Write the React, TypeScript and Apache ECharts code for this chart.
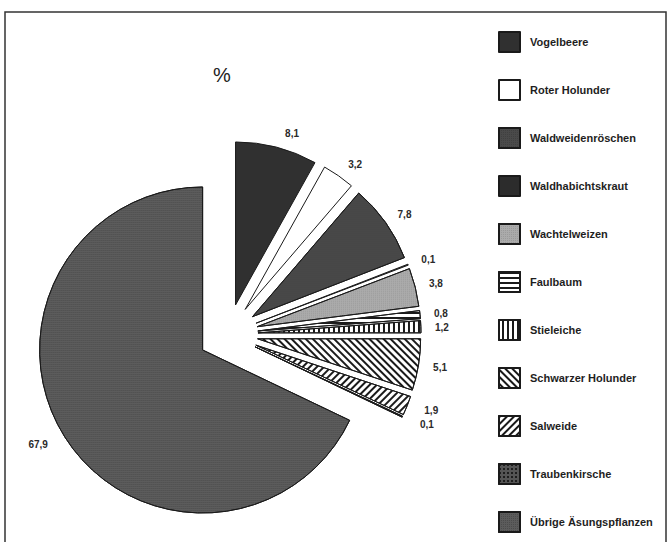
import React, { useEffect, useRef } from "react";
import * as echarts from "echarts";

const categories = [
  "Vogelbeere",
  "Roter Holunder",
  "Waldweidenröschen",
  "Waldhabichtskraut",
  "Wachtelweizen",
  "Faulbaum",
  "Stieleiche",
  "Schwarzer Holunder",
  "Salweide",
  "Traubenkirsche",
  "Übrige Äsungspflanzen",
];
const values = [8.1, 3.2, 7.8, 0.1, 3.8, 0.8, 1.2, 5.1, 1.9, 0.1, 67.9];
const unitTitle = "%";

const lineDecal = (rotation: number) => ({
  symbol: "rect",
  symbolSize: 1,
  color: "#1a1a1a",
  backgroundColor: "#ffffff",
  dashArrayX: [1, 0],
  dashArrayY: [1.6, 2.4],
  rotation,
});

const styles: any[] = [
  { color: "#303030" },
  { color: "#ffffff" },
  {
    color: "#4a4a4a",
    decal: { symbol: "rect", symbolSize: 1, color: "#404040", backgroundColor: "#5a5a5a", dashArrayX: [1, 1], dashArrayY: [1, 1], rotation: 0 },
  },
  { color: "#2c2c2c" },
  {
    color: "#ababab",
    decal: { symbol: "rect", symbolSize: 1, color: "#9a9a9a", backgroundColor: "#bdbdbd", dashArrayX: [1, 1], dashArrayY: [1, 1], rotation: 0 },
  },
  { color: "#ffffff", decal: lineDecal(0) },
  { color: "#ffffff", decal: lineDecal(Math.PI / 2) },
  { color: "#ffffff", decal: lineDecal(Math.PI / 4) },
  { color: "#ffffff", decal: lineDecal(-Math.PI / 4) },
  {
    color: "#555555",
    decal: { symbol: "rect", symbolSize: 1, color: "#1e1e1e", backgroundColor: "#9a9a9a", dashArrayX: [1.5, 1.5], dashArrayY: [1.5, 1.5], rotation: 0 },
  },
  {
    color: "#5c5c5c",
    decal: { symbol: "rect", symbolSize: 1, color: "#4c4c4c", backgroundColor: "#6c6c6c", dashArrayX: [1, 1], dashArrayY: [1, 1], rotation: 0 },
  },
];

export default function App() {
  const ref = useRef<HTMLDivElement>(null);
  useEffect(() => {
    if (!ref.current) return;
    const chart = echarts.init(ref.current, null, { renderer: "svg" });
    const data = categories.map((name, i) => ({
      name,
      value: values[i],
      selected: true,
      itemStyle: { ...styles[i], borderColor: "#1a1a1a", borderWidth: 1 },
    }));
    chart.setOption({
      animation: false,
      backgroundColor: "#ffffff",
      title: {
        text: unitTitle,
        left: 208,
        top: 60,
        textStyle: { fontFamily: "Liberation Sans", fontSize: 20, fontWeight: "normal", color: "#222" },
      },
      legend: {
        orient: "vertical",
        left: 498,
        top: 31,
        padding: 0,
        itemWidth: 21,
        itemHeight: 20,
        itemGap: 26,
        icon: "rect",
        selectedMode: false,
        data: categories,
        textStyle: {
          fontFamily: "Liberation Sans",
          fontWeight: "bold",
          fontSize: 11,
          color: "#1e1e1e",
          padding: [0, 0, 0, 5],
        },
      },
      graphic: [
        {
          type: "rect",
          shape: { x: 5, y: 12, width: 661, height: 600 },
          style: { fill: "none", stroke: "#333", lineWidth: 1.5 },
          silent: true,
        },
      ],
      series: [
        {
          type: "pie",
          center: [228, 334],
          radius: 163,
          startAngle: 90,
          clockwise: true,
          selectedMode: "multiple",
          selectedOffset: 30,
          avoidLabelOverlap: true,
          emphasis: { disabled: true },
          label: {
            show: true,
            position: "outside",
            formatter: (p: any) => String(p.value.toFixed(1)).replace(".", ","),
            fontFamily: "Liberation Sans",
            fontWeight: "bold",
            fontSize: 10,
            color: "#2a2a2a",
          },
          labelLine: { show: false, length: 14, length2: 0 },
          data,
        },
      ],
    });
    return () => chart.dispose();
  }, []);
  return (
    <div style={{ position: "absolute", left: 0, top: 0, width: 668, height: 542, overflow: "hidden" }}>
      <div ref={ref} style={{ width: 668, height: 620 }} />
    </div>
  );
}
